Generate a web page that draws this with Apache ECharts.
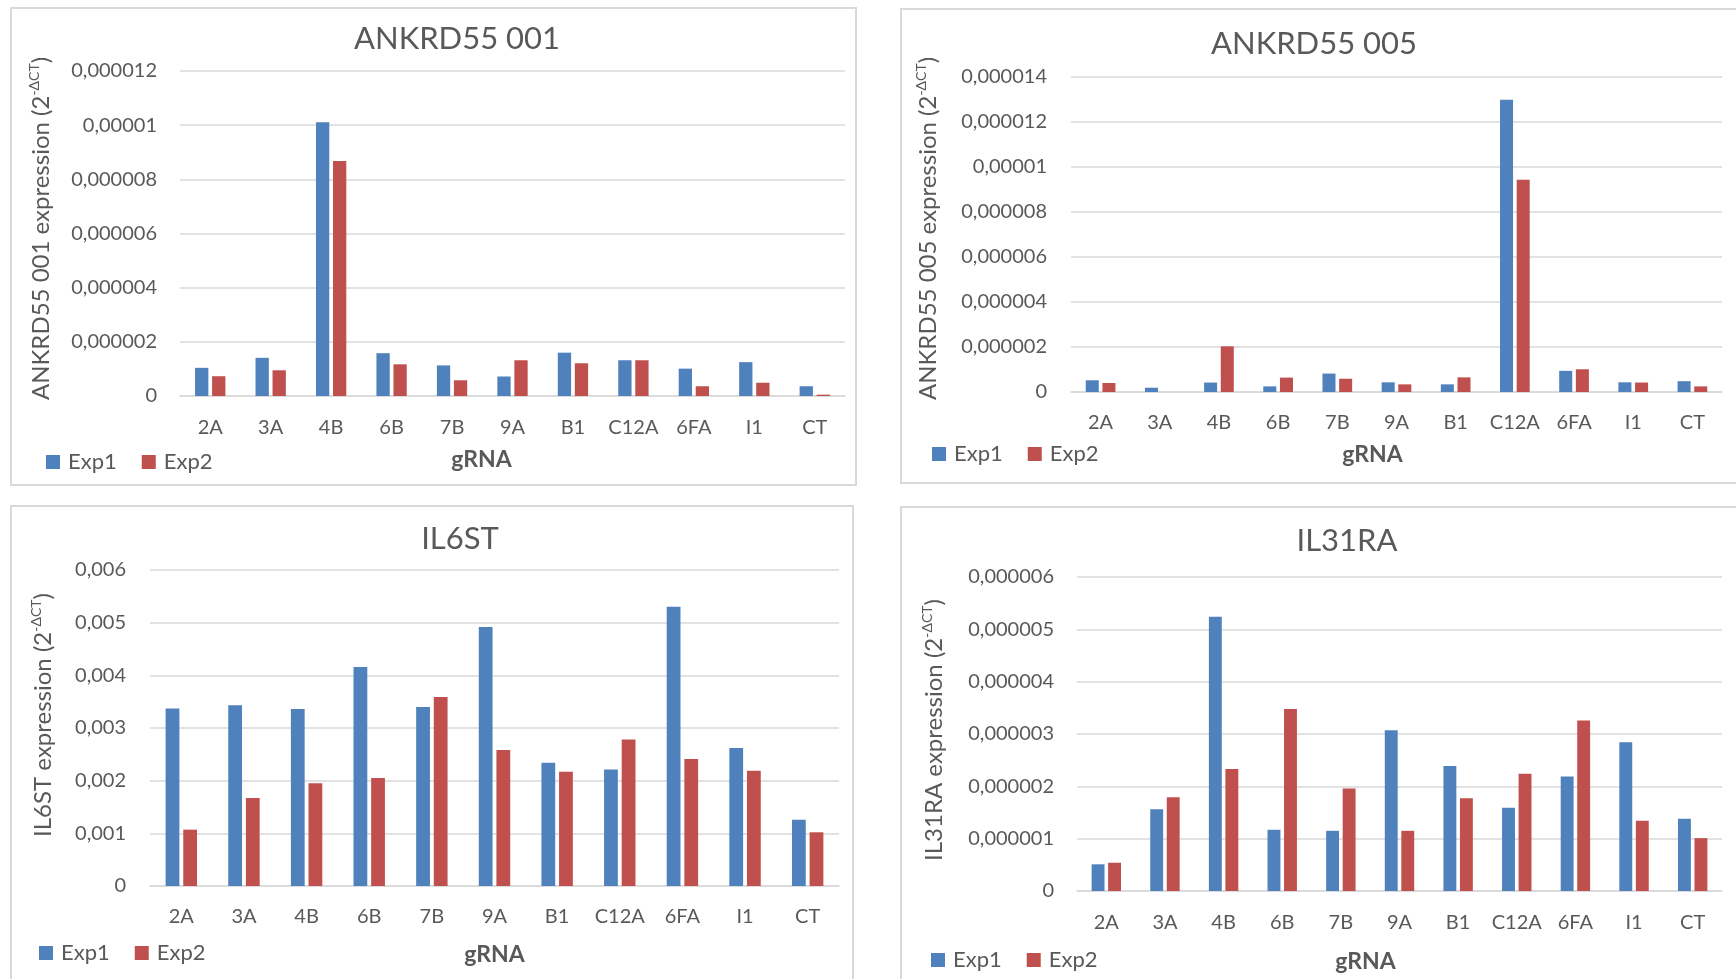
<!DOCTYPE html>
<html><head><meta charset="utf-8">
<script src="https://cdn.jsdelivr.net/npm/echarts@6/dist/echarts.min.js"></script>
<style>html,body{margin:0;padding:0;background:#fff}#c{width:1736px;height:979px}</style>
</head><body><div id="c"></div>
<script>
const categories = ['2A','3A','4B','6B','7B','9A','B1','C12A','6FA','I1','CT'];

const ankrd001Exp1 = [1.04e-6, 1.41e-6, 10.11e-6, 1.58e-6, 1.13e-6, 0.72e-6, 1.60e-6, 1.32e-6, 1.01e-6, 1.25e-6, 0.36e-6];
const ankrd001Exp2 = [0.73e-6, 0.95e-6, 8.68e-6, 1.17e-6, 0.58e-6, 1.32e-6, 1.21e-6, 1.32e-6, 0.36e-6, 0.49e-6, 0.05e-6];

const ankrd005Exp1 = [0.52e-6, 0.19e-6, 0.42e-6, 0.25e-6, 0.82e-6, 0.43e-6, 0.34e-6, 12.99e-6, 0.94e-6, 0.43e-6, 0.48e-6];
const ankrd005Exp2 = [0.40e-6, 0.00e-6, 2.03e-6, 0.64e-6, 0.59e-6, 0.34e-6, 0.65e-6, 9.43e-6, 1.01e-6, 0.42e-6, 0.25e-6];

const il6stExp1 = [0.00337, 0.00343, 0.00336, 0.00416, 0.00340, 0.00492, 0.00234, 0.00221, 0.00530, 0.00262, 0.00126];
const il6stExp2 = [0.00107, 0.00167, 0.00195, 0.00205, 0.00359, 0.00258, 0.00217, 0.00278, 0.00241, 0.00219, 0.00102];

const il31raExp1 = [0.51e-6, 1.56e-6, 5.24e-6, 1.17e-6, 1.15e-6, 3.07e-6, 2.39e-6, 1.59e-6, 2.19e-6, 2.84e-6, 1.38e-6];
const il31raExp2 = [0.54e-6, 1.79e-6, 2.33e-6, 3.48e-6, 1.96e-6, 1.15e-6, 1.77e-6, 2.24e-6, 3.26e-6, 1.34e-6, 1.01e-6];

const ticks001 = ['0','0,000002','0,000004','0,000006','0,000008','0,00001','0,000012'];
const ticks005 = ['0','0,000002','0,000004','0,000006','0,000008','0,00001','0,000012','0,000014'];
const ticksIl6st = ['0','0,001','0,002','0,003','0,004','0,005','0,006'];
const ticksIl31ra = ['0','0,000001','0,000002','0,000003','0,000004','0,000005','0,000006'];

const BLUE = '#4f81bd', RED = '#c0504d', TXT = '#595959', GRID = '#d9d9d9';
const FONT = 'Lato, "Open Sans", sans-serif';

const panels = [
  { title:'ANKRD55 001', tx:457, ty:40, grid:{left:180, right:891, top:71, bottom:583},
    yname:'ANKRD55 001', yGap:125, yPad:10, xShift:62, xGap:52, lx:46, ly:462,
    ticks:ticks001, interval:2e-6, s1:ankrd001Exp1, s2:ankrd001Exp2, ylm:23, xlm:22 },
  { title:'ANKRD55 005', tx:1314, ty:45, grid:{left:1071, right:14, top:77, bottom:587},
    yname:'ANKRD55 005', yGap:129, yPad:12, xShift:48, xGap:51, lx:932, ly:454,
    ticks:ticks005, interval:2e-6, s1:ankrd005Exp1, s2:ankrd005Exp2, ylm:24, xlm:21 },
  { title:'IL6ST', tx:460, ty:540, grid:{left:150, right:897, top:570, bottom:93},
    yname:'IL6ST', yGap:93, yPad:26, xShift:0, xGap:57, lx:39, ly:953,
    ticks:ticksIl6st, interval:0.001, s1:il6stExp1, s2:il6stExp2, ylm:24, xlm:21 },
  { title:'IL31RA', tx:1347, ty:542, grid:{left:1077, right:14, top:577, bottom:88},
    yname:'IL31RA', yGap:129, yPad:8, xShift:68, xGap:59, lx:931, ly:960,
    ticks:ticksIl31ra, interval:1e-6, s1:il31raExp1, s2:il31raExp2, ylm:23, xlm:22 }
];

const option = {
  animation:false,
  backgroundColor:'#fff',
  textStyle:{fontFamily:FONT},
  title:[], legend:[], grid:[], xAxis:[], yAxis:[], series:[],
  graphic:[
    {type:'rect', shape:{x:11,y:8,width:845,height:477}, style:{fill:'none', stroke:GRID, lineWidth:2}, silent:true},
    {type:'rect', shape:{x:901,y:9,width:900,height:474}, style:{fill:'none', stroke:GRID, lineWidth:2}, silent:true},
    {type:'rect', shape:{x:11,y:506,width:842,height:600}, style:{fill:'none', stroke:GRID, lineWidth:2}, silent:true},
    {type:'rect', shape:{x:901,y:507,width:900,height:600}, style:{fill:'none', stroke:GRID, lineWidth:2}, silent:true}
  ]
};

panels.forEach((p, i) => {
  option.title.push({ text:p.title, left:p.tx, top:p.ty - 17, textAlign:'center', padding:0,
    textStyle:{fontSize:31, fontWeight:'normal', color:TXT, fontFamily:FONT} });
  option.legend.push({ data:['Exp1','Exp2'], left:p.lx, top:p.ly - 11, padding:0, icon:'rect',
    itemWidth:14, itemHeight:14, itemGap:25,
    textStyle:{fontSize:22, color:TXT, fontFamily:FONT, padding:[0,0,0,3]} });
  option.grid.push(Object.assign({containLabel:false}, p.grid));
  option.xAxis.push({ type:'category', gridIndex:i, data:categories,
    axisLine:{lineStyle:{color:GRID, width:1.5}}, axisTick:{show:false},
    axisLabel:{fontSize:20, color:TXT, fontFamily:FONT, margin:p.xlm, interval:0},
    name:'gRNA', nameLocation:'middle', nameGap:p.xGap,
    nameTextStyle:{fontSize:23, fontWeight:'bold', color:TXT, fontFamily:FONT, padding:[0,p.xShift,0,0]} });
  const ticks = p.ticks, itv = p.interval;
  option.yAxis.push({ type:'value', gridIndex:i, min:0, max:itv*(ticks.length-1), interval:itv,
    axisLine:{show:false}, axisTick:{show:false},
    splitLine:{lineStyle:{color:GRID, width:1.5}},
    axisLabel:{fontSize:20, color:TXT, fontFamily:FONT, margin:p.ylm,
      formatter:(v) => ticks[Math.round(v/itv)] },
    name:'{m|' + p.yname + ' expression (2}{s|-ΔCT}{m|)}', nameLocation:'middle', nameRotate:90, nameGap:p.yGap,
    nameTextStyle:{ color:TXT, padding:[0,0,0,p.yPad],
      rich:{ m:{fontSize:24, color:TXT, fontFamily:FONT, lineHeight:28},
             s:{fontSize:14, color:TXT, fontFamily:FONT, lineHeight:14, verticalAlign:'top'} } } });
  option.series.push({ name:'Exp1', type:'bar', xAxisIndex:i, yAxisIndex:i, data:p.s1,
    barWidth:'22%', barGap:'28%', itemStyle:{color:BLUE} });
  option.series.push({ name:'Exp2', type:'bar', xAxisIndex:i, yAxisIndex:i, data:p.s2,
    barWidth:'22%', barGap:'28%', itemStyle:{color:RED} });
});

const chart = echarts.init(document.getElementById('c'));
chart.setOption(option);
</script></body></html>
